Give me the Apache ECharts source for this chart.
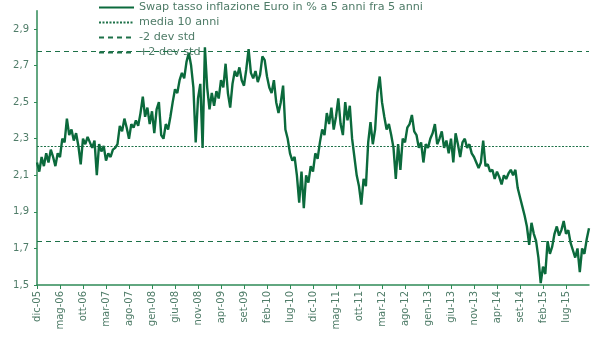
<!DOCTYPE html>
<html>
<head>
<meta charset="utf-8">
<script src="https://cdn.jsdelivr.net/npm/echarts@6/dist/echarts.min.js"></script>
<style>
html,body{margin:0;padding:0;background:#fff;}
#chart{width:600px;height:340px;}
</style>
</head>
<body>
<div id="chart"></div>
<script>
// Half-monthly readings, from dic-05 to dic-15
var startYear = 2005, startMonth = 11; // December (0-based)
var swapValues = [
2.17,2.12,2.20,2.15,2.22,2.17,2.24,2.20,2.15,2.22,
2.20,2.30,2.28,2.41,2.32,2.35,2.29,2.33,2.26,2.16,
2.30,2.27,2.31,2.28,2.25,2.29,2.10,2.27,2.23,2.26,
2.18,2.22,2.20,2.24,2.25,2.27,2.37,2.34,2.41,2.36,
2.30,2.38,2.36,2.40,2.37,2.44,2.53,2.42,2.47,2.38,
2.45,2.33,2.46,2.50,2.32,2.30,2.38,2.35,2.42,2.50,
2.57,2.55,2.62,2.66,2.63,2.72,2.77,2.70,2.58,2.28,
2.52,2.60,2.25,2.80,2.58,2.46,2.55,2.48,2.56,2.52,
2.62,2.58,2.71,2.55,2.47,2.60,2.67,2.64,2.69,2.62,
2.59,2.68,2.79,2.66,2.63,2.67,2.61,2.65,2.75,2.73,
2.64,2.58,2.55,2.62,2.50,2.44,2.50,2.59,2.35,2.30,
2.22,2.18,2.20,2.10,1.95,2.12,1.92,2.10,2.06,2.15,
2.12,2.22,2.19,2.28,2.35,2.32,2.44,2.38,2.47,2.35,
2.42,2.52,2.38,2.32,2.50,2.40,2.48,2.30,2.20,2.10,
2.04,1.94,2.08,2.04,2.28,2.39,2.27,2.35,2.55,2.64,
2.50,2.42,2.35,2.38,2.32,2.25,2.08,2.27,2.13,2.30,
2.28,2.36,2.38,2.43,2.34,2.32,2.25,2.28,2.17,2.27,
2.25,2.30,2.33,2.38,2.27,2.30,2.34,2.25,2.29,2.22,
2.30,2.17,2.33,2.27,2.20,2.28,2.30,2.25,2.27,2.22,
2.20,2.17,2.14,2.17,2.29,2.15,2.16,2.12,2.13,2.08,
2.12,2.09,2.05,2.10,2.08,2.11,2.13,2.10,2.13,2.03,
1.98,1.93,1.88,1.82,1.72,1.84,1.78,1.74,1.65,1.51,
1.60,1.56,1.74,1.67,1.71,1.78,1.82,1.77,1.80,1.85,
1.78,1.80,1.73,1.69,1.65,1.70,1.57,1.70,1.67,1.75,
1.81
];
var mediaValue = 2.26;
var minusTwoStd = 1.74;
var plusTwoStd = 2.78;
var tickLabels = ['dic-05','mag-06','ott-06','mar-07','ago-07','gen-08','giu-08','nov-08',
  'apr-09','set-09','feb-10','lug-10','dic-10','mag-11','ott-11','mar-12','ago-12','gen-13',
  'giu-13','nov-13','apr-14','set-14','feb-15','lug-15'];
var yTicks = [1.5,1.7,1.9,2.1,2.3,2.5,2.7,2.9];
var seriesNames = ['Swap tasso inflazione Euro in % a 5 anni fra 5 anni','media 10 anni','-2 dev std','+2 dev std'];

var categories = [];
for (var k = 0; k < swapValues.length; k++) {
  var m = startMonth + Math.floor(k / 2);
  var y = startYear + Math.floor(m / 12);
  var mo = (m % 12) + 1;
  categories.push(y + '-' + (mo < 10 ? '0' : '') + mo + (k % 2 ? '-16' : '-01'));
}

var green = '#0b6a3c';
var refGreen = '#1d7148';
var axisGreen = '#2f8a57';
var textColor = '#4f7c68';
var font = 'DejaVu Sans';

function refSeries(name, value, type) {
  var ls = {color: refGreen, width: 1.1, type: type};
  return {
    name: name, type: 'line', data: [], symbol: 'none', lineStyle: ls, itemStyle: {color: refGreen},
    markLine: {silent: true, symbol: 'none', label: {show: false}, lineStyle: ls,
      emphasis: {disabled: true}, data: [{yAxis: value}]}
  };
}

var chart = echarts.init(document.getElementById('chart'), null, {renderer: 'canvas'});
chart.setOption({
  animation: false,
  backgroundColor: '#fff',
  grid: {left: 37, right: 11, top: 10.7, bottom: 55, containLabel: false},
  legend: {
    orient: 'vertical', left: 93, top: -3, itemWidth: 35, itemHeight: 12, itemGap: 4,
    itemStyle: {opacity: 0, borderWidth: 0},
    textStyle: {color: textColor, fontFamily: font, fontSize: 11.2},
    data: seriesNames
  },
  xAxis: {
    type: 'category', boundaryGap: false, data: categories,
    axisLine: {lineStyle: {color: axisGreen, width: 1.5}},
    axisTick: {show: true, length: 4, lineStyle: {color: axisGreen},
      interval: function (i) { return i % 10 === 0 && i / 10 < tickLabels.length; }},
    axisLabel: {
      rotate: 90, margin: 6, color: textColor, fontFamily: font, fontSize: 10,
      interval: function (i) { return i % 10 === 0 && i / 10 < tickLabels.length; },
      formatter: function (v, i) { return tickLabels[Math.round(i / 10)] || ''; }
    },
    splitLine: {show: false}
  },
  yAxis: {
    type: 'value', min: 1.5, max: 3.0,
    axisLine: {show: true, lineStyle: {color: axisGreen, width: 1.5}},
    axisTick: {show: true, length: 3, inside: false, lineStyle: {color: axisGreen}, customValues: yTicks},
    axisLabel: {color: textColor, fontFamily: font, fontSize: 10, margin: 8, customValues: yTicks,
      formatter: function (v) { return v.toFixed(1).replace('.', ','); }},
    splitLine: {show: false}
  },
  series: [
    {name: seriesNames[0], type: 'line', data: swapValues, symbol: 'none', showSymbol: false,
      lineStyle: {color: green, width: 2.4}, itemStyle: {color: green}, z: 3},
    refSeries(seriesNames[1], mediaValue, [2, 1.5]),
    refSeries(seriesNames[2], minusTwoStd, [5, 4]),
    refSeries(seriesNames[3], plusTwoStd, [5, 4])
  ]
});
</script>
</body>
</html>
